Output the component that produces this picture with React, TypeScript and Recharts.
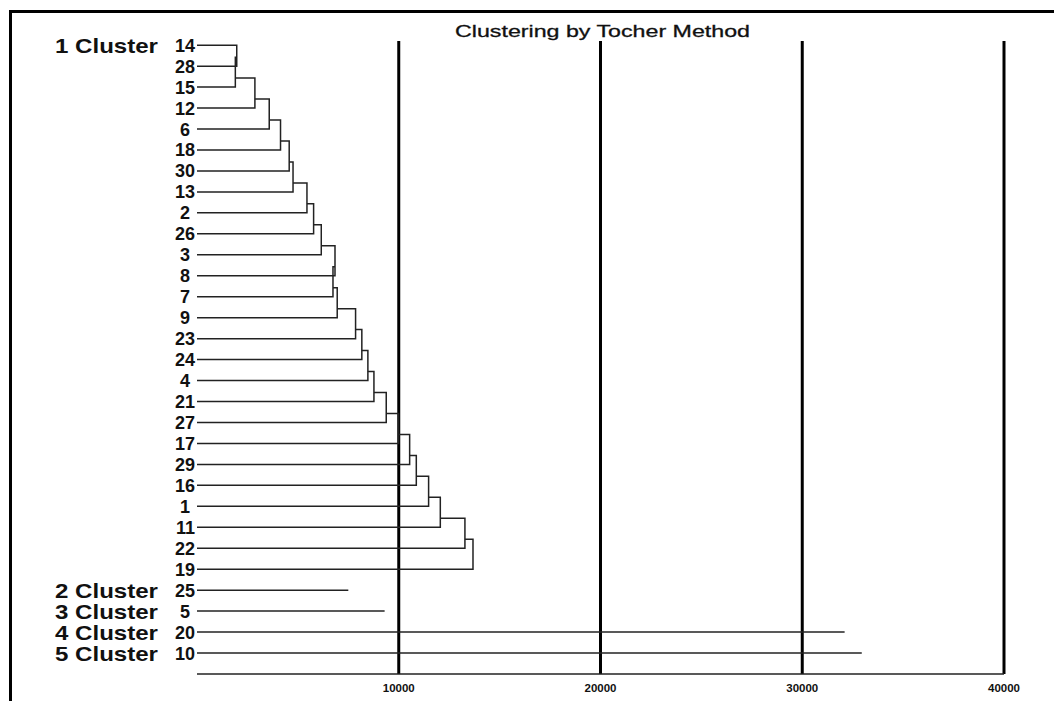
import { ScatterChart, Scatter, XAxis, YAxis, ReferenceLine } from "recharts";

// leaf order of the first cluster, top to bottom
const cluster1Leaves = ["14", "28", "15", "12", "6", "18", "30", "13", "2", "26", "3", "8", "7", "9", "23", "24", "4", "21", "27", "17", "29", "16", "1", "11", "22", "19"];
// distance at which each leaf (from the 2nd on) joins the cluster above it
const cluster1Heights = [1970, 1900, 2870, 3580, 4140, 4570, 4760, 5450, 5780, 6160, 6840, 6740, 6950, 7860, 8170, 8470, 8770, 9380, 9990, 10540, 10870, 11480, 12060, 13280, 13680];
// one-member clusters
const singleLeaves = ["25", "5", "20", "10"];
const singleHeights = [7500, 9300, 32100, 32950];
const clusterNames = ["1 Cluster", "2 Cluster", "3 Cluster", "4 Cluster", "5 Cluster"];
const distanceTicks = [10000, 20000, 30000, 40000];

const allLeaves = [...cluster1Leaves, ...singleLeaves];
const nodeY = (k: number) => k - 0.43;

type Pt = { x: number; y: number };
const segments: Pt[][] = [];
cluster1Heights.forEach((h, i) => {
  const k = i + 1;
  const child: Pt = k === 1 ? { x: 0, y: 0 } : { x: cluster1Heights[i - 1], y: nodeY(k - 1) };
  segments.push([child, { x: h, y: child.y }, { x: h, y: k }, { x: 0, y: k }]);
});
singleHeights.forEach((h, i) => {
  const y = cluster1Leaves.length + i;
  segments.push([{ x: 0, y }, { x: h, y }]);
});

const clusterAt: Record<number, string> = { 0: clusterNames[0] };
singleLeaves.forEach((_, i) => {
  clusterAt[cluster1Leaves.length + i] = clusterNames[i + 1];
});

const font = "'Liberation Sans', Arial, sans-serif";

function LeafTick(props: any) {
  const { x, y, payload } = props;
  const idx = payload.value as number;
  const label = allLeaves[idx];
  if (label === undefined) return <g />;
  const shift = label.length === 1 ? 5 : 0;
  return (
    <g>
      <text x={x - shift} y={y} dy={6.5} textAnchor="end" fontFamily={font} fontWeight="bold" fontSize={18} fill="#111">
        {label}
      </text>
      {clusterAt[idx] && (
        <text x={55} y={y} dy={7.5} fontFamily={font} fontWeight="bold" fontSize={21} fill="#111" textLength={103} lengthAdjust="spacingAndGlyphs">
          {clusterAt[idx]}
        </text>
      )}
    </g>
  );
}

export default function App() {
  return (
    <div style={{ position: "absolute", left: 0, top: 0, width: 1054, height: 701, background: "#fff", overflow: "hidden" }}>
      <div style={{ position: "absolute", left: 9, top: 10, width: 1100, height: 750, borderTop: "3px solid #000", borderLeft: "3px solid #000" }} />
      <svg style={{ position: "absolute", left: 0, top: 0 }} width={1054} height={60}>
        <text x={455} y={37} fontFamily={font} fontSize={17} fill="#111" stroke="#111" strokeWidth={0.3} textLength={295} lengthAdjust="spacingAndGlyphs">
          Clustering by Tocher Method
        </text>
      </svg>
      <div style={{ position: "absolute", left: 0, top: 0 }}>
        <ScatterChart width={1054} height={701} margin={{ top: 41, right: 50, bottom: 7, left: 0 }}>
          <XAxis
            type="number"
            dataKey="x"
            domain={[0, 40000]}
            ticks={distanceTicks}
            tickLine={false}
            tickSize={6}
            tickMargin={4}
            height={20}
            axisLine={{ stroke: "#222", strokeWidth: 1.5 }}
            tick={{ fontFamily: font, fontSize: 11.5, fontWeight: "bold", fill: "#111" }}
          />
          <YAxis
            type="number"
            dataKey="y"
            domain={[-0.2, 30]}
            allowDataOverflow
            reversed
            width={197}
            ticks={allLeaves.map((_, i) => i)}
            interval={0}
            axisLine={false}
            tickLine={false}
            tickSize={0}
            tickMargin={2}
            tick={<LeafTick />}
          />
          {segments.map((seg, i) => (
            <Scatter
              key={i}
              data={seg}
              line={{ stroke: "#222", strokeWidth: 1.5 }}
              lineType="joint"
              shape={() => <g />}
              isAnimationActive={false}
            />
          ))}
          {distanceTicks.map((t) => (
            <ReferenceLine key={t} x={t} stroke="#000" strokeWidth={3} />
          ))}
        </ScatterChart>
      </div>
    </div>
  );
}
